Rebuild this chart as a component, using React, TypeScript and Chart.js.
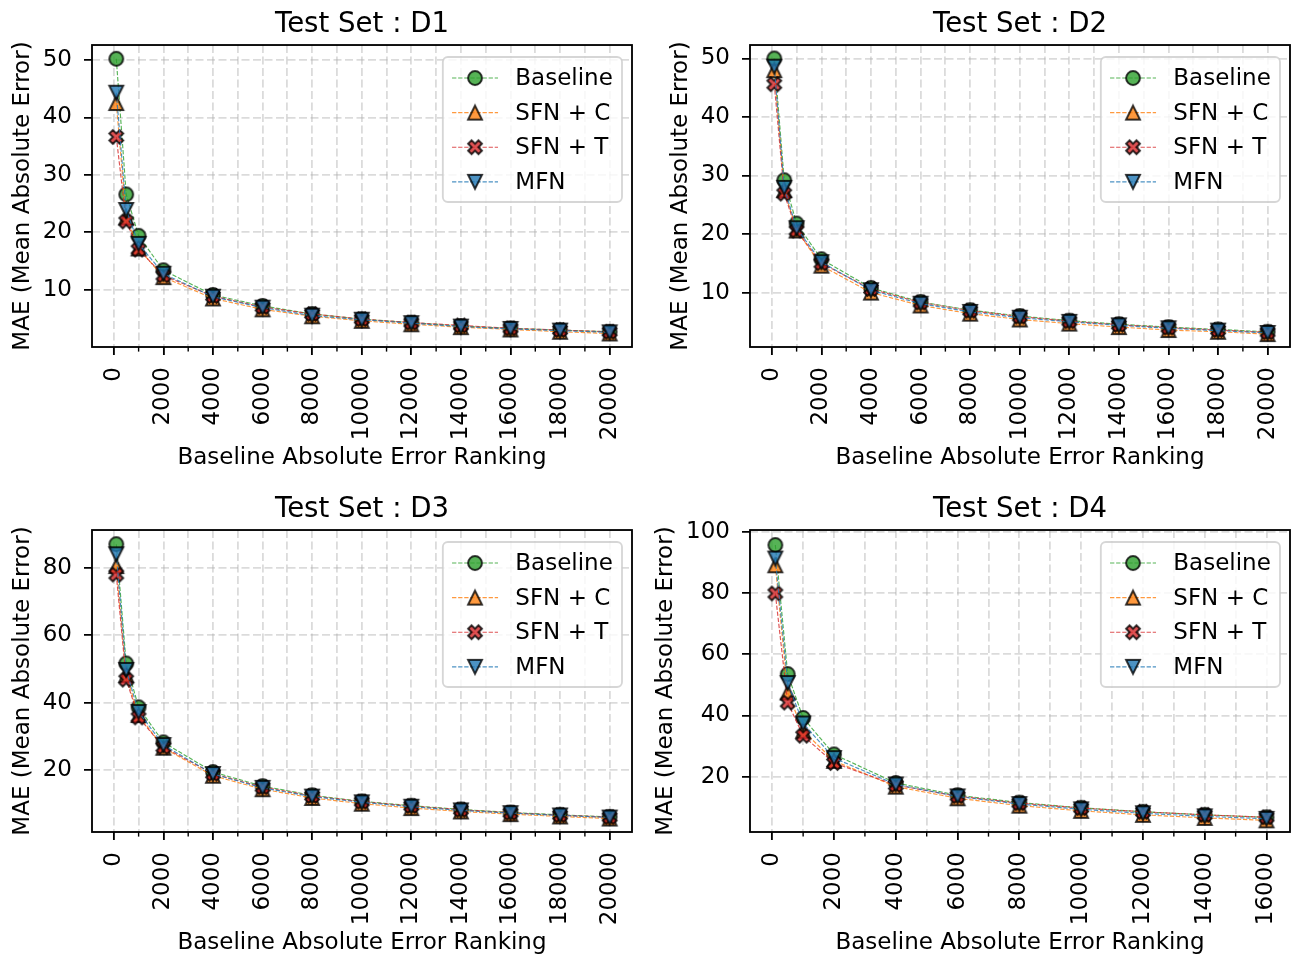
import React, { useEffect, useRef } from 'react';
import { Chart, registerables } from 'chart.js';

Chart.register(...registerables);

// ---------------- data ----------------
const X_LONG = [100, 500, 1000, 2000, 4000, 6000, 8000, 10000, 12000, 14000, 16000, 18000, 20000];
const X_SHORT = [100, 500, 1000, 2000, 4000, 6000, 8000, 10000, 12000, 14000, 16000];

const D1_BASELINE = [50.2, 26.6, 19.4, 13.4, 9.1, 7.2, 5.8, 4.9, 4.3, 3.7, 3.3, 3.0, 2.7];
const D1_SFN_C = [42.5, 22.6, 17.2, 12.2, 8.5, 6.6, 5.4, 4.6, 4.0, 3.5, 3.1, 2.7, 2.4];
const D1_SFN_T = [36.6, 21.9, 17.0, 12.5, 8.9, 7.0, 5.8, 4.9, 4.3, 3.8, 3.3, 3.0, 2.7];
const D1_MFN = [44.3, 23.9, 18.0, 12.8, 8.8, 6.9, 5.5, 4.8, 4.2, 3.6, 3.2, 2.9, 2.6];

const D2_BASELINE = [50.0, 29.2, 21.8, 15.7, 10.8, 8.4, 7.0, 6.0, 5.2, 4.6, 4.1, 3.7, 3.3];
const D2_SFN_C = [48.0, 27.5, 20.6, 14.6, 10.0, 7.8, 6.4, 5.4, 4.7, 4.1, 3.6, 3.3, 2.9];
const D2_SFN_T = [45.6, 26.9, 20.6, 15.0, 10.6, 8.3, 6.9, 5.9, 5.1, 4.5, 4.0, 3.6, 3.2];
const D2_MFN = [48.6, 27.9, 21.0, 15.2, 10.4, 8.1, 6.7, 5.7, 5.0, 4.4, 3.9, 3.5, 3.1];

const D3_BASELINE = [87.0, 51.6, 38.6, 28.2, 19.4, 15.2, 12.5, 10.7, 9.4, 8.3, 7.4, 6.7, 6.1];
const D3_SFN_C = [80.5, 48.2, 36.3, 26.6, 18.3, 14.3, 11.7, 10.0, 8.7, 7.7, 6.9, 6.2, 5.6];
const D3_SFN_T = [78.0, 46.8, 35.6, 26.8, 18.9, 14.9, 12.3, 10.6, 9.3, 8.2, 7.3, 6.6, 6.0];
const D3_MFN = [84.0, 49.7, 37.2, 27.4, 18.8, 14.7, 12.1, 10.4, 9.1, 8.0, 7.2, 6.5, 5.9];

const D4_BASELINE = [95.6, 53.5, 39.2, 27.3, 18.0, 14.0, 11.6, 9.9, 8.6, 7.6, 6.8];
const D4_SFN_C = [89.0, 47.5, 35.0, 25.2, 16.8, 13.0, 10.6, 8.9, 7.6, 6.6, 5.8];
const D4_SFN_T = [79.8, 44.2, 33.4, 24.5, 17.3, 13.7, 11.4, 9.8, 8.6, 7.6, 6.8];
const D4_MFN = [91.2, 50.6, 37.4, 26.1, 17.5, 13.6, 11.1, 9.4, 8.1, 7.1, 6.3];

const X_TICKS_20K = [0, 2000, 4000, 6000, 8000, 10000, 12000, 14000, 16000, 18000, 20000];
const X_MINOR_20K = [1000, 3000, 5000, 7000, 9000, 11000, 13000, 15000, 17000, 19000];
const X_TICKS_16K = [0, 2000, 4000, 6000, 8000, 10000, 12000, 14000, 16000];
const X_MINOR_16K = [1000, 3000, 5000, 7000, 9000, 11000, 13000, 15000];

const Y_TICKS_D1 = [10, 20, 30, 40, 50];
const Y_TICKS_D2 = [10, 20, 30, 40, 50];
const Y_TICKS_D3 = [20, 40, 60, 80];
const Y_TICKS_D4 = [20, 40, 60, 80, 100];

const SERIES_LABELS = ['Baseline', 'SFN + C', 'SFN + T', 'MFN'];
const SERIES_RGB = ['44,160,44', '255,127,14', '214,39,40', '31,119,180'];
const SERIES_SHAPES = ['circle', 'up', 'x', 'down'];

const TITLES = ['Test Set : D1', 'Test Set : D2', 'Test Set : D3', 'Test Set : D4'];
const X_LABEL = 'Baseline Absolute Error Ranking';
const Y_LABEL = 'MAE (Mean Absolute Error)';

// ---------------- style ----------------
const FONT = '"DejaVu Sans", sans-serif';
const FS = 23;
const MS = 13.8;
const EW = 2.0;
const GRID = 'rgba(176,176,176,0.45)';
const GRID_DASH = [8, 3.5];
const CH = 477;

Chart.defaults.font.family = FONT;
Chart.defaults.color = '#000';

function makeMarker(shape: string, rgb: string): HTMLCanvasElement {
  const size = 28;
  const c = document.createElement('canvas');
  c.width = size;
  c.height = size;
  const g = c.getContext('2d') as CanvasRenderingContext2D;
  const h = MS / 2;
  const o = size / 2;
  g.beginPath();
  if (shape === 'circle') {
    g.arc(o, o, h, 0, Math.PI * 2);
  } else if (shape === 'up') {
    g.moveTo(o, o - h);
    g.lineTo(o + h, o + h);
    g.lineTo(o - h, o + h);
    g.closePath();
  } else if (shape === 'down') {
    g.moveTo(o, o + h);
    g.lineTo(o + h, o - h);
    g.lineTo(o - h, o - h);
    g.closePath();
  } else {
    const pts = [[-1, -2], [0, -1], [1, -2], [2, -1], [1, 0], [2, 1], [1, 2], [0, 1], [-1, 2], [-2, 1], [-1, 0], [-2, -1]];
    const k = MS / 4;
    pts.forEach(([px, py], i) => {
      const X = o + px * k;
      const Y = o + py * k;
      if (i) g.lineTo(X, Y);
      else g.moveTo(X, Y);
    });
    g.closePath();
  }
  g.fillStyle = `rgba(${rgb},0.8)`;
  g.fill();
  g.lineJoin = 'miter';
  g.lineWidth = EW;
  g.strokeStyle = 'rgba(0,0,0,0.8)';
  g.stroke();
  return c;
}

const decorPlugin = {
  id: 'decor',
  afterDraw(chart: any, _args: any, opts: any) {
    const { ctx, chartArea: a } = chart;
    const xs = chart.scales.x;
    ctx.save();
    // minor ticks
    ctx.strokeStyle = '#000';
    ctx.lineWidth = 1.4;
    ctx.setLineDash([]);
    (opts.minor || []).forEach((v: number) => {
      const px = xs.getPixelForValue(v);
      ctx.beginPath();
      ctx.moveTo(px, a.bottom);
      ctx.lineTo(px, a.bottom + 4.6);
      ctx.stroke();
    });
    // frame
    ctx.lineWidth = 1.84;
    ctx.strokeRect(a.left, a.top, a.right - a.left, a.bottom - a.top);

    // legend
    const markers: HTMLCanvasElement[] = opts.markers || [];
    ctx.font = `${FS}px ${FONT}`;
    let tw = 0;
    SERIES_LABELS.forEach((l) => {
      tw = Math.max(tw, ctx.measureText(l).width);
    });
    const pad = 0.4 * FS;
    const handle = 2 * FS;
    const textPad = 0.75 * FS;
    const rowH = 34.6;
    const boxW = pad + handle + textPad + tw + pad;
    const boxH = 145;
    const right = a.right - 10;
    const top = a.top + 12;
    const left = right - boxW;
    const r = 5;
    ctx.beginPath();
    ctx.moveTo(left + r, top);
    ctx.lineTo(right - r, top);
    ctx.arcTo(right, top, right, top + r, r);
    ctx.lineTo(right, top + boxH - r);
    ctx.arcTo(right, top + boxH, right - r, top + boxH, r);
    ctx.lineTo(left + r, top + boxH);
    ctx.arcTo(left, top + boxH, left, top + boxH - r, r);
    ctx.lineTo(left, top + r);
    ctx.arcTo(left, top, left + r, top, r);
    ctx.closePath();
    ctx.fillStyle = 'rgba(255,255,255,0.8)';
    ctx.fill();
    ctx.strokeStyle = 'rgba(204,204,204,0.8)';
    ctx.lineWidth = 1.84;
    ctx.stroke();

    SERIES_LABELS.forEach((label, i) => {
      const cy = top + 21 + i * rowH;
      ctx.beginPath();
      ctx.setLineDash([4.3, 1.8]);
      ctx.strokeStyle = `rgba(${SERIES_RGB[i]},0.8)`;
      ctx.lineWidth = 1.15;
      ctx.moveTo(left + pad, cy);
      ctx.lineTo(left + pad + handle, cy);
      ctx.stroke();
      ctx.setLineDash([]);
      const m = markers[i];
      if (m) ctx.drawImage(m, left + pad + handle / 2 - m.width / 2, cy - m.height / 2);
      ctx.fillStyle = '#000';
      ctx.textBaseline = 'middle';
      ctx.textAlign = 'left';
      ctx.font = `${FS}px ${FONT}`;
      ctx.fillText(label, left + pad + handle + textPad, cy + 1);
    });
    ctx.restore();
  },
};

type PanelProps = {
  left: number;
  top: number;
  width: number;
  yAxisWidth: number;
  title: string;
  xs: number[];
  series: number[][];
  xMin: number;
  xMax: number;
  yMin: number;
  yMax: number;
  xTicks: number[];
  xMinor: number[];
  yTicks: number[];
  yTitlePad: number;
};

function Panel(p: PanelProps) {
  const ref = useRef<HTMLCanvasElement | null>(null);
  useEffect(() => {
    if (!ref.current) return;
    const markers = SERIES_SHAPES.map((s, i) => makeMarker(s, SERIES_RGB[i]));
    const datasets = p.series.map((vals, i) => ({
      label: SERIES_LABELS[i],
      data: p.xs.map((x, j) => ({ x, y: vals[j] })),
      borderColor: `rgba(${SERIES_RGB[i]},0.8)`,
      backgroundColor: `rgba(${SERIES_RGB[i]},0.8)`,
      borderWidth: 1.15,
      borderDash: [4.3, 1.8],
      pointStyle: markers[i] as any,
      pointRadius: 7,
      pointHoverRadius: 7,
      order: 3 - i,
      tension: 0,
      fill: false,
    }));
    const tickFont = { size: FS, family: FONT };
    const chart = new Chart(ref.current, {
      type: 'line',
      data: { datasets },
      plugins: [decorPlugin as any],
      options: {
        animation: false,
        responsive: false,
        events: [],
        layout: { padding: { left: 0, right: 14, top: 0, bottom: 0 } },
        plugins: {
          legend: { display: false },
          tooltip: { enabled: false },
          title: {
            display: true,
            text: p.title,
            fullSize: false,
            color: '#000',
            font: { size: 27.6, weight: 'normal', family: FONT, lineHeight: 1.2 },
            padding: { top: 8.6, bottom: 3.3 },
          },
          decor: { markers, minor: p.xMinor },
        } as any,
        scales: {
          x: {
            type: 'linear',
            min: p.xMin,
            max: p.xMax,
            afterBuildTicks: (s: any) => {
              s.ticks = [...p.xTicks, ...p.xMinor].sort((a, b) => a - b).map((v) => ({ value: v }));
            },
            afterFit: (s: any) => {
              s.height = CH - 347;
              s.paddingLeft = 0;
              s.paddingRight = 0;
            },
            ticks: {
              autoSkip: false,
              minRotation: 90,
              maxRotation: 90,
              padding: 12,
              color: '#000',
              font: tickFont,
              callback: (v: any) => (Number(v) % 2000 === 0 ? String(v) : ''),
            },
            grid: {
              color: GRID,
              lineWidth: 1.8,
              tickLength: 8,
              tickWidth: 1.84,
              tickBorderDash: [1, 0],
              tickColor: (c: any) => (c.tick && c.tick.value % 2000 === 0 ? '#000' : 'rgba(0,0,0,0)'),
            },
            border: { display: false, dash: GRID_DASH },
            title: {
              display: true,
              text: X_LABEL,
              color: '#000',
              font: { size: FS, family: FONT, lineHeight: 1.2 },
              padding: { top: 0, bottom: 5 },
            },
          },
          y: {
            type: 'linear',
            min: p.yMin,
            max: p.yMax,
            afterBuildTicks: (s: any) => {
              s.ticks = p.yTicks.map((v) => ({ value: v }));
            },
            afterFit: (s: any) => {
              s.width = p.yAxisWidth;
              s.paddingTop = 0;
              s.paddingBottom = 0;
            },
            ticks: {
              padding: 12,
              color: '#000',
              font: tickFont,
              callback: (v: any) => String(v),
            },
            grid: {
              color: GRID,
              lineWidth: 1.8,
              tickLength: 8,
              tickWidth: 1.84,
              tickBorderDash: [1, 0],
              tickColor: '#000',
            },
            border: { display: false, dash: GRID_DASH },
            title: {
              display: true,
              text: Y_LABEL,
              color: '#000',
              font: { size: FS, family: FONT, lineHeight: 1.2 },
              padding: { top: p.yTitlePad, bottom: 0 },
            },
          },
        },
      } as any,
    });
    return () => chart.destroy();
  }, []);
  return (
    <canvas
      ref={ref}
      width={p.width}
      height={CH}
      style={{ position: 'absolute', left: p.left, top: p.top, display: 'block', width: p.width, height: CH }}
    />
  );
}

export default function App() {
  return (
    <div
      style={{
        position: 'absolute',
        left: 0,
        top: 0,
        width: 1291,
        height: 955,
        overflow: 'hidden',
        background: '#fff',
      }}
    >
      <Panel left={0} top={0} width={646} yAxisWidth={92} title={TITLES[0]} xs={X_LONG}
        series={[D1_BASELINE, D1_SFN_C, D1_SFN_T, D1_MFN]}
        xMin={-880} xMax={20900} yMin={0.05} yMax={52.6}
        xTicks={X_TICKS_20K} xMinor={X_MINOR_20K} yTicks={Y_TICKS_D1} yTitlePad={9} />
      <Panel left={0} top={485} width={646} yAxisWidth={92} title={TITLES[2]} xs={X_LONG}
        series={[D3_BASELINE, D3_SFN_C, D3_SFN_T, D3_MFN]}
        xMin={-880} xMax={20900} yMin={1.6} yMax={91.2}
        xTicks={X_TICKS_20K} xMinor={X_MINOR_20K} yTicks={Y_TICKS_D3} yTitlePad={9} />
      <Panel left={640} top={0} width={664} yAxisWidth={110} title={TITLES[1]} xs={X_LONG}
        series={[D2_BASELINE, D2_SFN_C, D2_SFN_T, D2_MFN]}
        xMin={-880} xMax={20900} yMin={0.7} yMax={52.3}
        xTicks={X_TICKS_20K} xMinor={X_MINOR_20K} yTicks={Y_TICKS_D2} yTitlePad={27} />
      <Panel left={640} top={485} width={664} yAxisWidth={110} title={TITLES[3]} xs={X_SHORT}
        series={[D4_BASELINE, D4_SFN_C, D4_SFN_T, D4_MFN]}
        xMin={-720} xMax={16760} yMin={2.0} yMax={100.5}
        xTicks={X_TICKS_16K} xMinor={X_MINOR_16K} yTicks={Y_TICKS_D4} yTitlePad={12.5} />
    </div>
  );
}
